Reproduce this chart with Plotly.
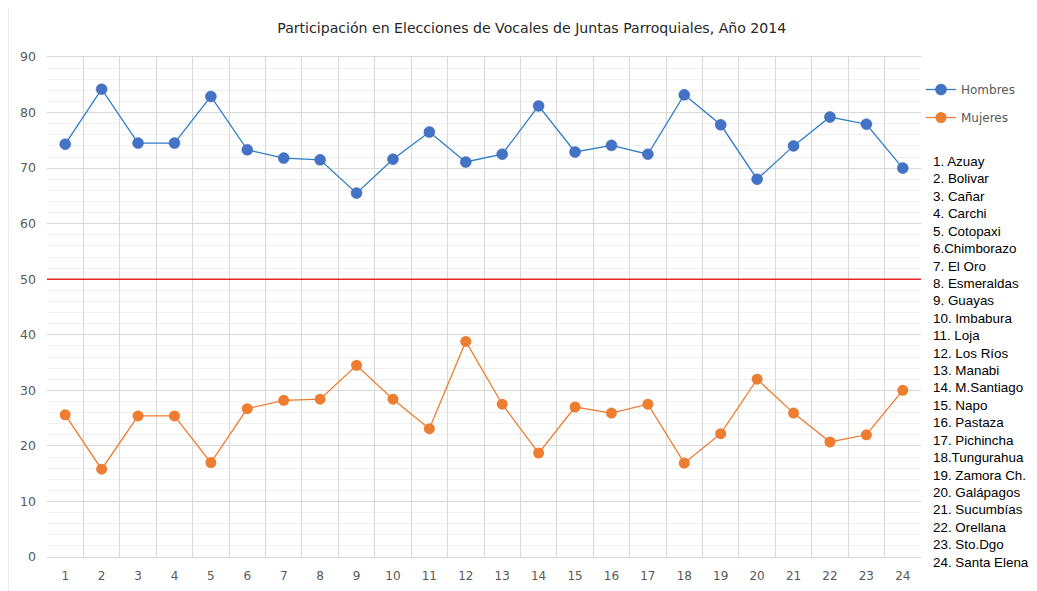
import plotly.graph_objects as go

categories = [str(i) for i in range(1, 25)]
hombres = [74.3, 84.2, 74.5, 74.5, 82.9, 73.3, 71.8, 71.5, 65.5, 71.6, 76.5, 71.1,
           72.5, 81.2, 72.9, 74.1, 72.5, 83.2, 77.8, 68.0, 74.0, 79.2, 77.9, 70.0]
mujeres = [25.6, 15.8, 25.4, 25.4, 17.0, 26.7, 28.2, 28.4, 34.5, 28.4, 23.1, 38.8,
           27.5, 18.7, 27.0, 25.9, 27.5, 16.9, 22.2, 32.0, 25.9, 20.7, 22.0, 30.0]
provincias = ["1. Azuay", "2. Bolivar", "3. Cañar", "4. Carchi", "5. Cotopaxi",
              "6.Chimborazo", "7. El Oro", "8. Esmeraldas", "9. Guayas", "10. Imbabura",
              "11. Loja", "12. Los Ríos", "13. Manabi", "14. M.Santiago", "15. Napo",
              "16. Pastaza", "17. Pichincha", "18.Tungurahua", "19. Zamora Ch.",
              "20. Galápagos", "21. Sucumbías", "22. Orellana", "23. Sto.Dgo",
              "24. Santa Elena"]
umbral = 50
title = "Participación en Elecciones de Vocales de Juntas Parroquiales, Año 2014"

FONT = "DejaVu Sans"
LIST_FONT = "Liberation Sans"

fig = go.Figure()
fig.add_trace(go.Scatter(
    x=categories, y=hombres, name="Hombres", mode="lines+markers", legendgroup="h",
    line=dict(color="#2E7DC7", width=1.3),
    marker=dict(color="#4472C4", size=11, line=dict(color="#3A66B5", width=0.5)),
))
fig.add_trace(go.Scatter(
    x=categories, y=mujeres, name="Mujeres", mode="lines+markers", legendgroup="m",
    line=dict(color="#ED7D31", width=1.3),
    marker=dict(color="#ED7D31", size=11),
))
fig.add_shape(type="line", xref="paper", x0=0, x1=1, yref="y", y0=umbral, y1=umbral,
              line=dict(color="#E8262A", width=1.5), layer="above")

# outer chart border on the left
fig.add_shape(type="line", xref="paper", yref="paper", x0=-0.0446, x1=-0.0446,
              y0=-0.07, y1=1.12, line=dict(color="#d9d9d9", width=1))

fig.add_annotation(
    text="<br>".join(provincias), xref="paper", yref="paper",
    x=1.011, y=0.811, xanchor="left", yanchor="top", align="left", showarrow=False,
    font=dict(family=LIST_FONT, size=13.4, color="#000000"),
    bgcolor="white", borderpad=1,
)

fig.update_layout(
    width=1029, height=583,
    margin=dict(l=39, r=116, t=49, b=34, autoexpand=False),
    paper_bgcolor="white", plot_bgcolor="white",
    title=dict(text=title, x=0.509, xanchor="center", y=0.9655, yanchor="middle",
               font=dict(family=FONT, size=14.1, color="#262626")),
    font=dict(family=FONT, size=12, color="#595959"),
    showlegend=True,
    legend=dict(x=1.0, y=0.964, xanchor="left", yanchor="top",
                font=dict(family=FONT, size=12, color="#595959"),
                itemwidth=30, tracegroupgap=9, bgcolor="rgba(0,0,0,0)"),
    xaxis=dict(type="category", tickson="boundaries", showgrid=True,
               gridcolor="#d9d9d9", gridwidth=1, showline=True, linecolor="#d9d9d9",
               mirror=True, ticks="", tickfont=dict(size=12, color="#595959"),
               ticklabelstandoff=8,
               range=[-0.5, 23.5], fixedrange=True),
    yaxis=dict(range=[0, 90], dtick=10, showgrid=True, gridcolor="#d9d9d9",
               gridwidth=1, zeroline=False, showline=False, ticks="",
               tickfont=dict(size=12.5, color="#595959"), ticklabelstandoff=10,
               minor=dict(dtick=2, showgrid=True, gridcolor="#f0f0f0", gridwidth=1)),
)

fig.write_html("out.html")
